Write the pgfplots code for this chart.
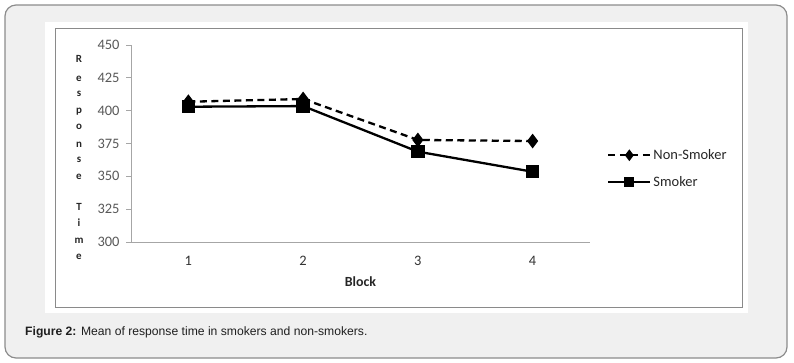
\documentclass[border=0pt]{standalone}
\usepackage{pgfplots}
\pgfplotsset{compat=1.18}
\usepackage{fontspec}
\setmainfont{Carlito}
\newfontfamily\capfont{Liberation Sans}
\definecolor{bgout}{HTML}{F0F0F0}
\definecolor{bordout}{HTML}{8C8C8C}
\definecolor{frame}{HTML}{8A8A8A}
\definecolor{axl}{HTML}{A6A6A6}
\definecolor{tickl}{HTML}{595959}
\begin{document}
\begin{tikzpicture}
\begin{scope}[x=1bp,y=-1bp]
\useasboundingbox (0,0) rectangle (794,362);
\draw[bordout, line width=1.2bp, fill=bgout, rounded corners=11bp] (5,5) rectangle (787,358);
\fill[white] (45,22) rectangle (748,313);
\draw[frame, line width=1bp] (55.5,28.5) rectangle (742,307);
\end{scope}
\begin{axis}[
  at={(131bp,-242bp)}, anchor=south west,
  scale only axis, width=459bp, height=197bp,
  xmin=0.5, xmax=4.5, ymin=300, ymax=450,
  axis lines*=left,
  axis line style={axl, line width=1bp},
  xtick={1,2,3,4},
  minor xtick={0.5,1.5,2.5,3.5,4.5},
  ytick={300,325,350,375,400,425,450},
  tick align=outside,
  major tick length=5bp,
  minor tick length=4bp,
  tick style={axl, line width=1bp},
  xtick style={draw=none},
  minor tick style={axl, line width=1bp},
  /pgf/number format/assume math mode=true,
  yticklabel style={font=\fontsize{14.5}{16}\selectfont, text=tickl, xshift=-3bp},
  xticklabel style={font=\fontsize{14.5}{16}\selectfont, text=black!80, yshift=-6bp},
  xlabel={Block},
  xlabel style={font=\bfseries\fontsize{14}{16}\selectfont, text=black!85, yshift=-4bp},
  clip=false,
  legend style={at={(rel axis cs:1.037,0.373)}, anchor=west, draw=none, fill=none,
    font=\fontsize{14.5}{16}\selectfont, text=black!85, row sep=11bp, inner sep=0pt,
    /tikz/every even column/.append style={column sep=0bp}},
  legend cell align=left,
  legend image code/.code={\draw[mark repeat=2,mark phase=2,#1,mark size=4bp] plot coordinates {(0bp,0bp)(21bp,0bp)(42bp,0bp)};},
]
\addplot[black, line width=2.3bp, dash pattern=on 7bp off 4.5bp, mark=diamond*, mark size=5.5bp, mark options={solid}]
  coordinates {(1,406.8) (2,408.9) (3,377.7) (4,376.9)};
\addlegendentry{Non-Smoker}
\addplot[black, line width=2.3bp, mark=square*, mark size=5.5bp, mark options={solid}]
  coordinates {(1,403) (2,403.5) (3,368.8) (4,353.5)};
\addlegendentry{Smoker}
\end{axis}
\begin{scope}[x=1bp,y=-1bp]
\foreach \l/\yy in {R/58.3, e/77.7, s/92.3, p/110, o/125.7, n/143.3, s/158.3, e/176, T/206.7, i/222.7, m/239.3, e/256}
  \node[anchor=base, inner sep=0pt, font=\bfseries\fontsize{11}{13}\selectfont, text=black!85] at (79,\yy+3.8) {\l};
\node[anchor=base west, inner sep=0pt, font=\capfont\fontsize{12.2}{14}\selectfont, text=black!88] at (25,335.5) {\textbf{Figure 2:} Mean of response time in smokers and non-smokers.};
\end{scope}
\end{tikzpicture}
\end{document}
